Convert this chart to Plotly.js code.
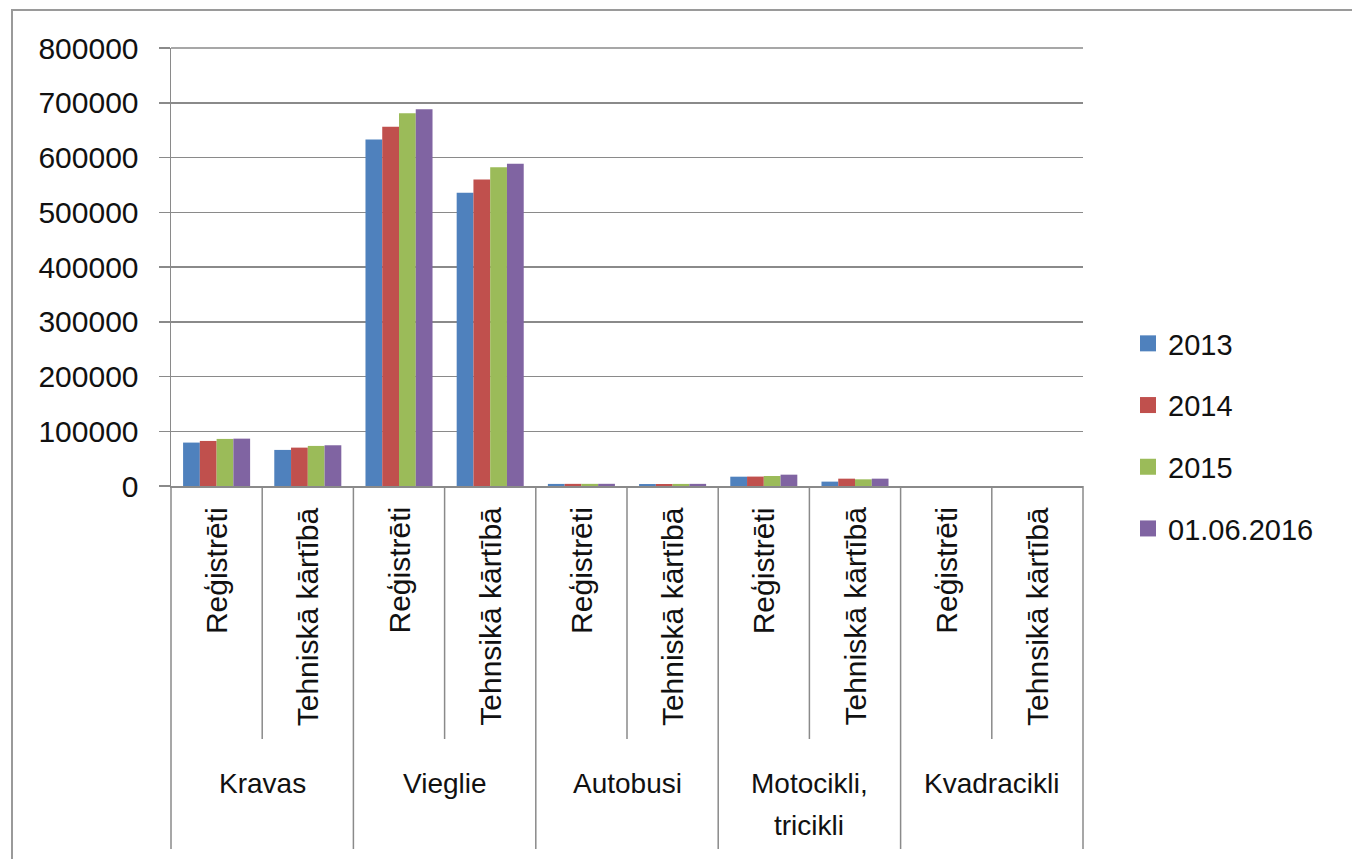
<!DOCTYPE html>
<html>
<head>
<meta charset="utf-8">
<script src="https://cdn.plot.ly/plotly-3.0.1.min.js"></script>
<style>
  html, body { margin: 0; padding: 0; background: #ffffff; }
  #chart { width: 1352px; height: 859px; }
</style>
</head>
<body>
<div id="chart"></div>
<script>
// ---- Data ----
const groups = ["Kravas", "Vieglie", "Autobusi", "Motocikli,\ntricikli", "Kvadracikli"];
const subLabels = [
  "Reģistrēti", "Tehniskā kārtībā",
  "Reģistrēti", "Tehnsikā kārtībā",
  "Reģistrēti", "Tehniskā kārtībā",
  "Reģistrēti", "Tehniskā kārtībā",
  "Reģistrēti", "Tehnsikā kārtībā"
];
const seriesNames = ["2013", "2014", "2015", "01.06.2016"];
const v2013 = [79300, 65900, 633000, 535500, 3800, 3600, 17000, 8000, 0, 0];
const v2014 = [82300, 70100, 656000, 560000, 3900, 3700, 17200, 13400, 0, 0];
const v2015 = [86000, 73200, 680600, 582400, 3900, 3800, 18300, 12200, 0, 0];
const v2016 = [86500, 74400, 688000, 588500, 4000, 3900, 20700, 13400, 0, 0];
const yTicks = [0, 100000, 200000, 300000, 400000, 500000, 600000, 700000, 800000];

const colors = ["#4F81BD", "#C0504D", "#9BBB59", "#8064A2"];
const values = [v2013, v2014, v2015, v2016];

// unique category keys (group + sub label)
const subPerGroup = 2;
const catKeys = subLabels.map((s, i) => groups[Math.floor(i / subPerGroup)].replace("\n", " ") + " | " + s);

const FONT = "Liberation Sans, Arial, sans-serif";
const GRID = "#8a8a8a";

const traces = [];
values.forEach((vals, k) => {
  traces.push({
    type: "bar",
    name: seriesNames[k],
    x: catKeys,
    y: vals,
    marker: { color: colors[k], line: { width: 0 } },
    showlegend: false,
    hoverinfo: "x+y+name"
  });
});
// legend entries (bigger square symbols)
values.forEach((vals, k) => {
  traces.push({
    type: "scatter",
    mode: "markers",
    name: seriesNames[k],
    legendgroup: "g" + k,
    x: [null],
    y: [null],
    marker: { symbol: "square", size: 20, color: colors[k], line: { width: 0 } },
    showlegend: true,
    hoverinfo: "skip"
  });
});

// pixel helpers for the area under the plot (plot: top 48, bottom 486)
const plotTop = 48, plotBottom = 486, plotH = plotBottom - plotTop;
const py = (pix) => (plotBottom - pix) / plotH;

const shapes = [];
const nCat = catKeys.length;
// top gridline (axis maximum)
shapes.push({
  type: "line", xref: "paper", yref: "paper",
  x0: 0, x1: 1, y0: 1, y1: 1,
  line: { color: GRID, width: 1.5 }
});
// dividers below the category axis
for (let b = 0; b <= nCat; b++) {
  const isGroupEdge = (b % subPerGroup === 0);
  shapes.push({
    type: "line", xref: "paper", yref: "paper",
    x0: b / nCat, x1: b / nCat,
    y0: 0, y1: py(isGroupEdge ? 849 : 739),
    line: { color: GRID, width: 1.5 }
  });
}
// outer chart border
shapes.push({
  type: "rect", xref: "paper", yref: "paper",
  x0: (12 - 171) / 912, x1: (1400 - 171) / 912,
  y0: py(900), y1: py(10),
  line: { color: "#9a9a9a", width: 2 }
});

const annotations = [];
subLabels.forEach((s, i) => {
  annotations.push({
    xref: "x", yref: "paper", x: i, y: py(505),
    xanchor: "center", yanchor: "top",
    textangle: -90, text: s, showarrow: false,
    font: { family: FONT, size: 30, color: "#111" }
  });
});
groups.forEach((g, gi) => {
  const lines = g.split("\n");
  lines.forEach((ln, li) => {
    annotations.push({
      xref: "x", yref: "paper", x: gi * subPerGroup + (subPerGroup - 1) / 2,
      y: py(783 + li * 43),
      xanchor: "center", yanchor: "middle",
      text: ln, showarrow: false,
      font: { family: FONT, size: 28, color: "#111" }
    });
  });
});

const layout = {
  width: 1352, height: 859,
  margin: { l: 171, r: 269, t: 48, b: 373, pad: 0 },
  paper_bgcolor: "#ffffff", plot_bgcolor: "#ffffff",
  font: { family: FONT, size: 29, color: "#111" },
  barmode: "group", bargap: 0.265, bargroupgap: 0,
  xaxis: {
    type: "category", showticklabels: false, showgrid: false,
    showline: true, linecolor: GRID, linewidth: 1.5, ticks: "",
    range: [-0.5, nCat - 0.5], zeroline: false, fixedrange: true
  },
  yaxis: {
    range: [0, 800000], tickvals: yTicks, ticktext: yTicks.map(String),
    showgrid: true, gridcolor: GRID, gridwidth: 1.5,
    showline: true, linecolor: GRID, linewidth: 1.5,
    ticks: "outside", ticklen: 11, tickcolor: GRID, tickwidth: 1.5,
    ticklabelstandoff: 14,
    tickfont: { family: FONT, size: 30, color: "#111" },
    zeroline: false, fixedrange: true
  },
  legend: {
    x: (1128 - 171) / 912, xanchor: "left",
    y: py(436), yanchor: "middle",
    traceorder: "grouped", tracegroupgap: 21,
    font: { family: FONT, size: 29, color: "#111" },
    bgcolor: "rgba(0,0,0,0)", borderwidth: 0
  },
  shapes: shapes,
  annotations: annotations,
  showlegend: true
};

Plotly.newPlot("chart", traces, layout, { displayModeBar: false, staticPlot: true });
</script>
</body>
</html>
